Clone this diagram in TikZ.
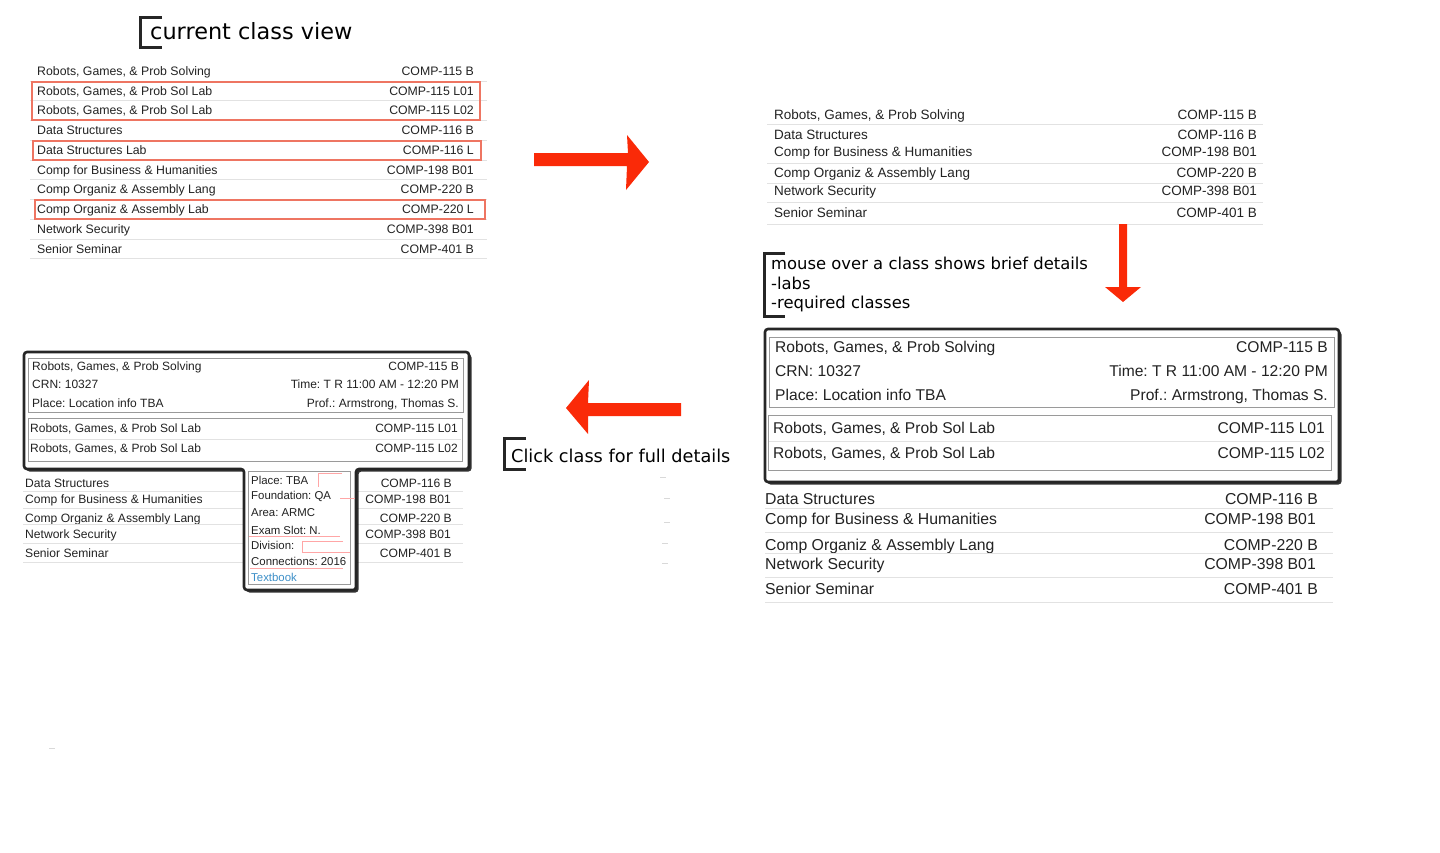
\documentclass[tikz,border=0pt]{standalone}
\usepackage{fontspec}
\setmainfont{Liberation Sans}
\newfontfamily\headfont{DejaVu Sans}
\usetikzlibrary{shadows}
\definecolor{txt}{HTML}{222222}
\definecolor{sepc}{HTML}{E2E2E2}
\definecolor{redb}{HTML}{EE7562}
\definecolor{arr}{HTML}{FA2A08}
\definecolor{boxgray}{HTML}{9A9A9A}
\definecolor{linkc}{HTML}{3C8FC8}
\newcommand\fs[1]{\fontsize{#1}{#1}\selectfont}
\frenchspacing
\begin{document}
\frenchspacing
\begin{tikzpicture}[x=1pt,y=-1pt,
  lt/.style={anchor=base west,inner sep=0pt,font=\fs{#1}\frenchspacing,text=txt,yshift={-0.36*#1pt}},
  rt/.style={anchor=base east,inner sep=0pt,font=\fs{#1}\frenchspacing,text=txt,yshift={-0.36*#1pt}},
  sepl/.style={draw=sepc,line width=0.9pt},
  redbox/.style={draw=redb,line width=1.3pt},
  graybox/.style={draw=boxgray,line width=1pt},
  frame/.style={draw=black!85,line width=2.6pt,fill=white,rounded corners=3pt,
     drop shadow={shadow xshift=2.5pt,shadow yshift=-2.5pt,opacity=.8,fill=black}},
  bigarrow/.style={fill=arr,draw=none},
  brk/.style={draw=black!85,line width=3pt},
  note/.style={anchor=base west,inner sep=0pt,font=\headfont\fs{#1},text=black},
  artifact/.style={draw=red!35,line width=0.6pt},
  speck/.style={draw=black!15,line width=0.8pt},
]
\useasboundingbox (0,0) rectangle (1440,852);

% ---------------- heading ----------------
\node[note=22.4] (head) at (150,39) {current class view};
\draw[brk] (162,17) -- (140,17) -- (140,47) -- (162,47);

% ---------------- top-left list ----------------
\foreach \y/\a/\b [count=\i] in {
  71/{Robots, Games, \& Prob Solving}/{COMP-115 B},
  90.75/{Robots, Games, \& Prob Sol Lab}/{COMP-115 L01},
  110.5/{Robots, Games, \& Prob Sol Lab}/{COMP-115 L02},
  130.25/{Data Structures}/{COMP-116 B},
  150/{Data Structures Lab}/{COMP-116 L},
  169.75/{Comp for Business \& Humanities}/{COMP-198 B01},
  189.5/{Comp Organiz \& Assembly Lang}/{COMP-220 B},
  209.25/{Comp Organiz \& Assembly Lab}/{COMP-220 L},
  229/{Network Security}/{COMP-398 B01},
  248.75/{Senior Seminar}/{COMP-401 B}} {
  \draw[sepl] (30,\y+10) -- (487,\y+10);
  \node[lt=12.3] (tlA\i) at (37,\y) {\a};
  \node[rt=12.3] (tlB\i) at (474,\y) {\b};
}
\draw[redbox] (32,82) rectangle (480,120);
\draw[redbox] (33,141) rectangle (481,160);
\draw[redbox] (35,200) rectangle (485,219);

% ---------------- right arrow ----------------
\fill[bigarrow] (534,153) -- (628,153) -- (627,135) -- (649,162) -- (626,190) -- (627,166) -- (534,166) -- cycle;

% ---------------- top-right list ----------------
\foreach \y/\a/\b [count=\i] in {
  115/{Robots, Games, \& Prob Solving}/{COMP-115 B},
  135/{Data Structures}/{COMP-116 B},
  152/{Comp for Business \& Humanities}/{COMP-198 B01},
  173/{Comp Organiz \& Assembly Lang}/{COMP-220 B},
  191/{Network Security}/{COMP-398 B01},
  213/{Senior Seminar}/{COMP-401 B}} {
  \node[lt=13.5] (trA\i) at (774,\y) {\a};
  \node[rt=13.5] (trB\i) at (1257,\y) {\b};
}
\foreach \s in {124,163,183,202,224} \draw[sepl] (767,\s) -- (1263,\s);

% ---------------- down arrow ----------------
\fill[bigarrow] (1119,224) -- (1127,224) -- (1127,287) -- (1141,287) -- (1123,302) -- (1105,287) -- (1119,287) -- cycle;

% ---------------- hover note ----------------
\node[note=16.4] (hoverA) at (771,269) {mouse over a class shows brief details};
\node[note=16.4] (hoverB) at (771,289) {-labs};
\node[note=16.4] (hoverC) at (771,308) {-required classes};
\draw[brk] (785,253) -- (764,253) -- (764,316) -- (785,316);

% ---------------- right popup ----------------
\draw[frame] (765,329) rectangle (1339,482);
\draw[graybox] (769,337) rectangle (1334,407);
\draw[graybox] (768,415) rectangle (1331,470);
\draw[sepl] (769,441) -- (1330,441);
\node[lt=15.6] (rpA1) at (775,347) {Robots, Games, \& Prob Solving};
\node[rt=15.6] (rpB1) at (1328,347) {COMP-115 B};
\node[lt=15.6] (rpA2) at (775,371) {CRN: 10327};
\node[rt=15.6] (rpB2) at (1328,371) {Time: T R 11:00 AM - 12:20 PM};
\node[lt=15.6] (rpA3) at (775,395) {Place: Location info TBA};
\node[rt=15.6] (rpB3) at (1328,395) {Prof.: Armstrong, Thomas S.};
\node[lt=15.6] (rpA4) at (773,428) {Robots, Games, \& Prob Sol Lab};
\node[rt=15.6] (rpB4) at (1325,428) {COMP-115 L01};
\node[lt=15.6] (rpA5) at (773,453) {Robots, Games, \& Prob Sol Lab};
\node[rt=15.6] (rpB5) at (1325,453) {COMP-115 L02};

% ---------------- right lower list ----------------
\foreach \y/\a/\b/\r [count=\i] in {
  499/{Data Structures}/{COMP-116 B}/1318,
  519/{Comp for Business \& Humanities}/{COMP-198 B01}/1316,
  545/{Comp Organiz \& Assembly Lang}/{COMP-220 B}/1318,
  564/{Network Security}/{COMP-398 B01}/1316,
  589/{Senior Seminar}/{COMP-401 B}/1318} {
  \node[lt=15.8] (rlA\i) at (765,\y) {\a};
  \node[rt=15.8] (rlB\i) at (\r,\y) {\b};
}
\foreach \s in {508,532,553,577,602} \draw[sepl] (765,\s) -- (1333,\s);

% ---------------- left arrow + click note ----------------
\fill[bigarrow] (681,403) -- (588,403) -- (589,380) -- (566,408) -- (588,434) -- (588,416) -- (681,416) -- cycle;
\node[note=17.7] (clickT) at (511,462) {Click class for full details};
\draw[brk] (526,438) -- (504,438) -- (504,469) -- (526,469);

% ---------------- bottom-left list ----------------
\foreach \y/\a/\b/\r [count=\i] in {
  483/{Data Structures}/{COMP-116 B}/452,
  499/{Comp for Business \& Humanities}/{COMP-198 B01}/451,
  518/{Comp Organiz \& Assembly Lang}/{COMP-220 B}/452,
  534/{Network Security}/{COMP-398 B01}/451,
  553/{Senior Seminar}/{COMP-401 B}/452} {
  \node[lt=12.1] (blA\i) at (25,\y) {\a};
  \node[rt=12.1] (blB\i) at (\r,\y) {\b};
}
\foreach \s in {491,508,524,543,562} {
  \draw[sepl] (23,\s) -- (244,\s);
  \draw[sepl] (356,\s) -- (463,\s);
}

% ---------------- bottom-left full popup ----------------
\draw[frame] (24,352) -- (469,352) -- (469,469) -- (356,469) -- (356,590) -- (244,590) -- (244,469) -- (24,469) -- cycle;
\draw[graybox] (28,358) rectangle (463,412);
\draw[graybox] (28,418) rectangle (462,461);
\draw[sepl] (29,439) -- (461,439);
\node[lt=12] (fpA1) at (32,366) {Robots, Games, \& Prob Solving};
\node[rt=12] (fpB1) at (459,366) {COMP-115 B};
\node[lt=12] (fpA2) at (32,384) {CRN: 10327};
\node[rt=12] (fpB2) at (459,384) {Time: T R 11:00 AM - 12:20 PM};
\node[lt=12] (fpA3) at (32,403) {Place: Location info TBA};
\node[rt=12] (fpB3) at (459,403) {Prof.: Armstrong, Thomas S.};
\node[lt=12] (fpA4) at (30,428) {Robots, Games, \& Prob Sol Lab};
\node[rt=12] (fpB4) at (458,428) {COMP-115 L01};
\node[lt=12] (fpA5) at (30,448) {Robots, Games, \& Prob Sol Lab};
\node[rt=12] (fpB5) at (458,448) {COMP-115 L02};
% detail column
\draw[graybox] (248,471) rectangle (350,584);
\draw[artifact] (342,473) -- (318,473) -- (318,487);
\draw[artifact] (340,498) -- (355,498);
\draw[artifact] (249,536) -- (340,536);
\draw[artifact] (343,541) -- (302,541) -- (302,552) -- (350,552);
\draw[artifact] (250,568) -- (343,568);
\node[lt=11.4] (dc1) at (251,480) {Place: TBA};
\node[lt=11.4] (dc2) at (251,495) {Foundation: QA};
\node[lt=11.4] (dc3) at (251,512) {Area: ARMC};
\node[lt=11.4] (dc4) at (251,530) {Exam Slot: N.};
\node[lt=11.4] (dc5) at (251,545) {Division:};
\node[lt=11.4] (dc6) at (251,561) {Connections: 2016};
\node[lt=11.4,text=linkc] (dc7) at (251,577) {Textbook};

% ---------------- faint specks ----------------
\foreach \px/\py in {663/477,667/498,667/522,665/543,665/563,52/748}
  \draw[speck] (\px-3,\py) -- (\px+3,\py);
\end{tikzpicture}
\end{document}
